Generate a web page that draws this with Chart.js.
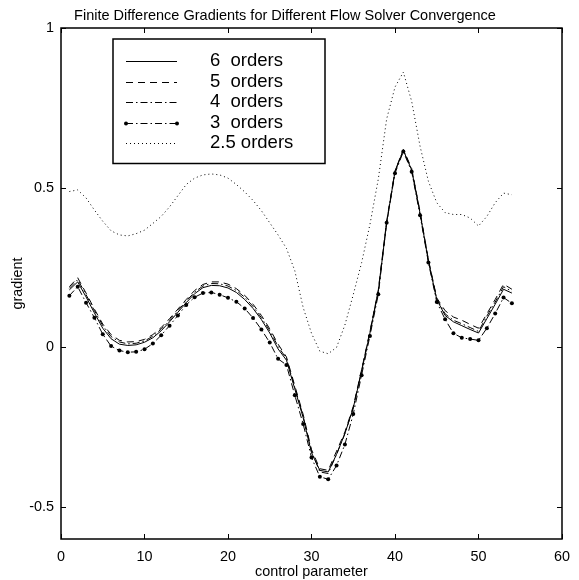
<!DOCTYPE html>
<html><head><meta charset="utf-8">
<script src="https://cdn.jsdelivr.net/npm/chart.js@4/dist/chart.umd.min.js"></script>
<style>html,body{margin:0;padding:0;background:#fff;}#wrap{width:579px;height:580px;}</style>
</head><body><div id="wrap"><canvas id="c" width="579" height="580"></canvas></div>
<script>
const controlParam = [1,2,3,4,5,6,7,8,9,10,11,12,13,14,15,16,17,18,19,20,21,22,23,24,25,26,27,28,29,30,31,32,33,34,35,36,37,38,39,40,41,42,43,44,45,46,47,48,49,50,51,52,53,54];
const orders6 = [0.180,0.205,0.158,0.108,0.060,0.027,0.010,0.006,0.008,0.016,0.030,0.052,0.080,0.110,0.140,0.168,0.187,0.194,0.193,0.186,0.172,0.150,0.122,0.087,0.045,-0.005,-0.040,-0.130,-0.220,-0.330,-0.385,-0.390,-0.335,-0.270,-0.190,-0.075,0.045,0.175,0.390,0.550,0.617,0.555,0.420,0.270,0.150,0.100,0.080,0.068,0.056,0.045,0.090,0.135,0.182,0.170];
const orders5 = [0.190,0.218,0.170,0.120,0.073,0.040,0.022,0.017,0.018,0.025,0.040,0.062,0.090,0.120,0.150,0.178,0.197,0.205,0.205,0.198,0.184,0.163,0.135,0.100,0.058,0.010,-0.030,-0.120,-0.210,-0.320,-0.380,-0.385,-0.325,-0.265,-0.185,-0.070,0.050,0.180,0.395,0.553,0.620,0.560,0.425,0.275,0.155,0.115,0.095,0.085,0.072,0.060,0.105,0.150,0.198,0.182];
const orders4 = [0.185,0.212,0.165,0.115,0.068,0.034,0.017,0.011,0.013,0.020,0.035,0.057,0.085,0.115,0.145,0.173,0.192,0.200,0.199,0.192,0.178,0.157,0.128,0.093,0.052,0.003,-0.035,-0.125,-0.215,-0.325,-0.390,-0.395,-0.335,-0.270,-0.190,-0.072,0.048,0.178,0.392,0.552,0.618,0.557,0.422,0.272,0.152,0.105,0.085,0.074,0.062,0.050,0.098,0.142,0.190,0.175];
const orders3 = [0.162,0.190,0.140,0.093,0.041,0.004,-0.010,-0.015,-0.014,-0.006,0.012,0.038,0.068,0.100,0.133,0.157,0.170,0.172,0.165,0.155,0.143,0.122,0.092,0.056,0.015,-0.036,-0.055,-0.150,-0.240,-0.345,-0.405,-0.413,-0.370,-0.304,-0.209,-0.087,0.036,0.166,0.390,0.545,0.613,0.550,0.414,0.266,0.142,0.088,0.044,0.030,0.026,0.022,0.060,0.106,0.156,0.138];
const orders25 = [0.488,0.493,0.468,0.430,0.395,0.365,0.352,0.349,0.356,0.367,0.388,0.410,0.440,0.475,0.510,0.530,0.540,0.543,0.540,0.530,0.510,0.487,0.460,0.428,0.390,0.352,0.310,0.240,0.125,0.044,-0.012,-0.020,0.000,0.070,0.165,0.265,0.385,0.527,0.715,0.815,0.862,0.770,0.630,0.520,0.453,0.422,0.416,0.416,0.405,0.380,0.410,0.453,0.483,0.478];
const legendLabels = ['6  orders','5  orders','4  orders','3  orders','2.5 orders'];
const xTicks = [0,10,20,30,40,50,60];
const yTicks = [-0.5,0,0.5,1];
const titleText = 'Finite Difference Gradients for Different Flow Solver Convergence';
const xLabel = 'control parameter';
const yLabel = 'gradient';

const FONT = '"Liberation Sans", Arial, Helvetica, sans-serif';
const styles = [
  {dash: [], marker: false},
  {dash: [7,5], marker: false},
  {dash: [7,3,1.5,3], marker: false},
  {dash: [7,3,1.5,3], marker: true},
  {dash: [1,3], marker: false}
];
const series = [orders6, orders5, orders4, orders3, orders25];

const datasets = series.map((s, i) => ({
  label: legendLabels[i],
  data: controlParam.map((x, j) => ({x: x, y: s[j]})),
  borderColor: '#000',
  backgroundColor: '#000',
  borderWidth: 1,
  borderDash: styles[i].dash,
  pointRadius: styles[i].marker ? 2 : 0,
  pointBorderWidth: 0,
  pointBackgroundColor: '#000',
  tension: 0,
  fill: false
}));

const framePlugin = {
  id: 'frame',
  afterDraw(chart) {
    const ctx = chart.ctx;
    const a = chart.chartArea;
    const xs = chart.scales.x, ys = chart.scales.y;
    ctx.save();
    ctx.strokeStyle = '#000';
    ctx.lineWidth = 1;
    const tl = 5;
    ctx.beginPath();
    xTicks.forEach(v => {
      const p = Math.round(xs.getPixelForValue(v)) + 0.5;
      ctx.moveTo(p, a.bottom); ctx.lineTo(p, a.bottom - tl);
      ctx.moveTo(p, a.top); ctx.lineTo(p, a.top + tl);
    });
    yTicks.forEach(v => {
      const p = Math.round(ys.getPixelForValue(v)) + 0.5;
      ctx.moveTo(a.left, p); ctx.lineTo(a.left + tl, p);
      ctx.moveTo(a.right, p); ctx.lineTo(a.right - tl, p);
    });
    ctx.stroke();
    ctx.lineWidth = 1.5;
    ctx.strokeRect(a.left, a.top, a.right - a.left, a.bottom - a.top);

    // legend
    const lx0 = 113, ly0 = 39, lx1 = 325, ly1 = 163.5;
    ctx.fillStyle = '#fff';
    ctx.fillRect(lx0, ly0, lx1 - lx0, ly1 - ly0);
    ctx.lineWidth = 1.5;
    ctx.strokeRect(lx0, ly0, lx1 - lx0, ly1 - ly0);
    const rows = [61, 81.5, 102, 122.5, 143];
    ctx.font = '18.5px ' + FONT;
    ctx.textBaseline = 'middle';
    ctx.textAlign = 'left';
    legendLabels.forEach((lab, i) => {
      const y = Math.round(rows[i]) + 0.5;
      ctx.lineWidth = 1;
      ctx.setLineDash(styles[i].dash);
      ctx.beginPath();
      ctx.moveTo(126, y); ctx.lineTo(177, y);
      ctx.stroke();
      ctx.setLineDash([]);
      if (styles[i].marker) {
        ctx.fillStyle = '#000';
        [126, 177].forEach(px => { ctx.beginPath(); ctx.arc(px, y, 2, 0, Math.PI * 2); ctx.fill(); });
      }
      ctx.fillStyle = '#000';
      ctx.fillText(lab, 210, rows[i]);
    });
    ctx.restore();
  }
};

new Chart(document.getElementById('c'), {
  type: 'line',
  data: {datasets: datasets},
  options: {
    responsive: false,
    devicePixelRatio: 1,
    animation: false,
    events: [],
    layout: {padding: {left: 0, right: 9, top: 0, bottom: 0}},
    plugins: {
      legend: {display: false},
      tooltip: {enabled: false},
      title: {
        display: true, text: titleText, color: '#000',
        font: {family: FONT, size: 14.5, weight: 'normal', lineHeight: 1.2},
        padding: {top: 7, bottom: 3.6}
      }
    },
    scales: {
      x: {
        type: 'linear', min: 0, max: 60,
        afterBuildTicks: s => { s.ticks = xTicks.map(v => ({value: v})); },
        afterFit: s => { s.height = 41; },
        grid: {display: false, drawTicks: false},
        border: {display: false},
        ticks: {color: '#000', font: {family: FONT, size: 14.4}, padding: 9, maxRotation: 0, autoSkip: false,
                callback: v => String(v)},
        title: {display: true, text: xLabel, color: '#000', font: {family: FONT, size: 14.4, lineHeight: 1.2}, padding: {top: 0, bottom: -1}}
      },
      y: {
        type: 'linear', min: -0.6, max: 1,
        afterBuildTicks: s => { s.ticks = yTicks.map(v => ({value: v})); },
        afterFit: s => { s.width = 61; },
        grid: {display: false, drawTicks: false},
        border: {display: false},
        ticks: {color: '#000', font: {family: FONT, size: 14.4}, padding: 7, autoSkip: false,
                callback: v => String(v)},
        title: {display: true, text: yLabel, color: '#000', font: {family: FONT, size: 14.4, lineHeight: 1.2}, padding: {top: 9, bottom: 0}}
      }
    }
  },
  plugins: [framePlugin]
});
</script></body></html>
